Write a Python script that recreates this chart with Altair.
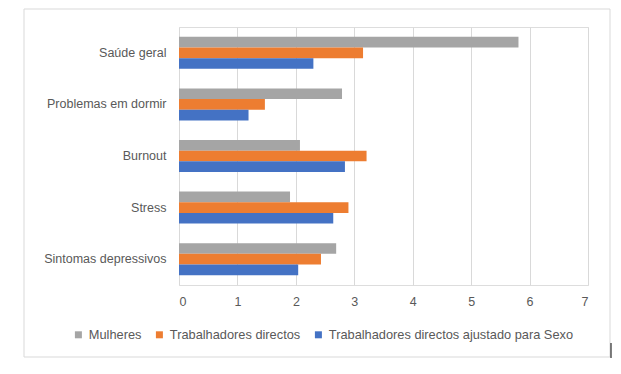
import altair as alt
import pandas as pd

categories = ["Saúde geral", "Problemas em dormir", "Burnout", "Stress", "Sintomas depressivos"]
series = ["Mulheres", "Trabalhadores directos", "Trabalhadores directos ajustado para Sexo"]
mulheres = [5.81, 2.79, 2.07, 1.90, 2.69]
trab_directos = [3.15, 1.47, 3.21, 2.90, 2.43]
trab_ajustado = [2.30, 1.19, 2.84, 2.64, 2.04]
colors = ["#a5a5a5", "#ed7d31", "#4472c4"]
x_ticks = [0, 1, 2, 3, 4, 5, 6, 7]

rows = []
for i, c in enumerate(categories):
    for s, vals in zip(series, [mulheres, trab_directos, trab_ajustado]):
        rows.append({"categoria": c, "serie": s, "valor": vals[i]})
df = pd.DataFrame(rows)

FONT = "Liberation Sans"
LABEL = "#595959"

bars = alt.Chart(df).mark_bar().encode(
    y=alt.Y("categoria:N", sort=categories, title=None,
            scale=alt.Scale(paddingInner=0.38, paddingOuter=0.19),
            axis=alt.Axis(domain=False, ticks=False, labelPadding=13, labelFontSize=12.5,
                          labelColor=LABEL, labelFont=FONT, grid=False)),
    yOffset=alt.YOffset("serie:N", sort=series, scale=alt.Scale(paddingInner=0, paddingOuter=0)),
    x=alt.X("valor:Q", title=None,
            scale=alt.Scale(domain=[0, 7], nice=False),
            axis=alt.Axis(values=x_ticks, domain=False, ticks=False, labelPadding=10,
                          labelFontSize=12.5, labelColor=LABEL, labelFont=FONT,
                          grid=True, gridColor="#d9d9d9", gridWidth=1)),
    color=alt.Color("serie:N", sort=series,
                    scale=alt.Scale(domain=series, range=colors),
                    legend=alt.Legend(title=None, orient="none", direction="horizontal",
                                      legendX=-107, legendY=301, symbolType="square",
                                      symbolSize=49, symbolStrokeWidth=0, labelFontSize=12.8,
                                      labelColor=LABEL, labelFont=FONT, labelOffset=4,
                                      labelLimit=400, columnPadding=11)),
)

frame = alt.Chart(pd.DataFrame({"a": [0]})).mark_rect(
    fill=None, stroke="#d9d9d9", strokeWidth=1
).encode(
    x=alt.value(-155), x2=alt.value(431), y=alt.value(-18), y2=alt.value(330)
)

mark = alt.Chart(pd.DataFrame({"a": [0]})).mark_rule(color="#000000", strokeWidth=1).encode(
    x=alt.value(432), y=alt.value(316), y2=alt.value(331)
)

chart = alt.layer(frame, mark, bars).properties(
    width=409, height=258,
    padding={"left": 171, "top": 19, "right": 25, "bottom": 80},
    autosize=alt.AutoSizeParams(type="none"),
).configure_view(stroke=None).configure(background="white")

chart.save("out.html", embed_options={"renderer": "svg", "actions": False})
